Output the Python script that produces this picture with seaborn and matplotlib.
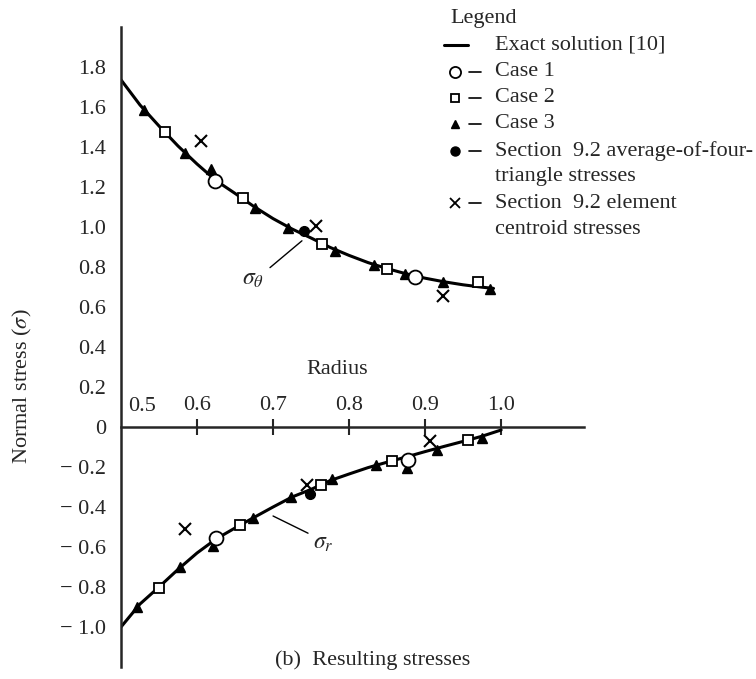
import matplotlib

matplotlib.use("Agg")
import matplotlib.pyplot as plt
from matplotlib.lines import Line2D
import seaborn as sns
import pandas as pd

# Curvas de la solucion exacta
r_curva = [0.50, 0.525, 0.55, 0.575, 0.60, 0.625, 0.65, 0.675, 0.70, 0.725, 0.75,
           0.775, 0.80, 0.825, 0.85, 0.875, 0.90, 0.925, 0.95, 0.975, 0.99]
sigma_theta = [1.736, 1.61, 1.505, 1.405, 1.315, 1.232, 1.168, 1.102, 1.042, 0.99, 0.945,
               0.898, 0.858, 0.822, 0.792, 0.766, 0.744, 0.726, 0.711, 0.699, 0.693]
r_curva_r = [0.50, 0.525, 0.55, 0.575, 0.60, 0.625, 0.65, 0.675, 0.70, 0.725, 0.75,
             0.775, 0.80, 0.825, 0.85, 0.875, 0.90, 0.925, 0.95, 0.975, 1.0]
sigma_r = [-1.0, -0.885, -0.80, -0.712, -0.63, -0.56, -0.505, -0.452, -0.40, -0.35, -0.312,
           -0.268, -0.235, -0.203, -0.176, -0.15, -0.123, -0.097, -0.072, -0.046, -0.015]

# Casos numericos
caso1_r = [0.624, 0.887, 0.625, 0.878]
caso1_s = [1.23, 0.749, -0.557, -0.164]
caso2_r = [0.558, 0.660, 0.764, 0.850, 0.969, 0.550, 0.657, 0.763, 0.856, 0.956]
caso2_s = [1.476, 1.147, 0.915, 0.790, 0.723, -0.804, -0.492, -0.288, -0.172, -0.067]
caso3_r = [0.530, 0.584, 0.618, 0.676, 0.720, 0.781, 0.833, 0.874, 0.923, 0.985,
           0.521, 0.578, 0.621, 0.674, 0.723, 0.777, 0.836, 0.876, 0.916, 0.975]
caso3_s = [1.587, 1.371, 1.288, 1.097, 0.993, 0.882, 0.810, 0.766, 0.727, 0.688,
           -0.898, -0.701, -0.596, -0.454, -0.352, -0.261, -0.190, -0.207, -0.113, -0.053]
promedio_r = [0.741, 0.749]
promedio_s = [0.981, -0.334]
centroide_r = [0.605, 0.757, 0.923, 0.584, 0.745, 0.907]
centroide_s = [1.429, 1.006, 0.655, -0.510, -0.292, -0.070]

x_ticks = [0.6, 0.7, 0.8, 0.9, 1.0]
y_ticks = [-1.0, -0.8, -0.6, -0.4, -0.2, 0.0, 0.2, 0.4, 0.6, 0.8, 1.0, 1.2, 1.4, 1.6, 1.8]

sns.set_style("white")
plt.rcParams["font.family"] = ["Liberation Serif", "DejaVu Serif"]
plt.rcParams["mathtext.fontset"] = "stix"
FS = 16

W, H = 756, 679
fig = plt.figure(figsize=(W / 100, H / 100), dpi=100)
ax = fig.add_axes([121 / W, 12 / H, 463 / W, 640 / H])

# Solucion exacta
df_t = pd.DataFrame({"r": r_curva, "s": sigma_theta})
df_r = pd.DataFrame({"r": r_curva_r, "s": sigma_r})
for df in (df_t, df_r):
    sns.lineplot(data=df, x="r", y="s", color="black", lw=2.2, ax=ax,
                 estimator=None, sort=False, zorder=2)

# Marcadores
ax.plot(caso3_r, caso3_s, ls="none", marker="^", ms=6.5, color="black", zorder=3, clip_on=False)
ax.plot(caso2_r, caso2_s, ls="none", marker="s", ms=7.5, mfc="white", mec="black", mew=1.3, zorder=4)
ax.plot(caso1_r, caso1_s, ls="none", marker="o", ms=10, mfc="white", mec="black", mew=1.3, zorder=4)
ax.plot(promedio_r, promedio_s, ls="none", marker="o", ms=7, color="black", zorder=5)
ax.plot(centroide_r, centroide_s, ls="none", marker="x", ms=8, mew=1.5, color="black", zorder=5)

# Etiquetas de curvas
ax.plot([0.696, 0.738], [0.797, 0.931], color="black", lw=1.0)
ax.text(0.674, 0.735, r"$\sigma_\theta$", fontsize=FS + 1, ha="center", va="center")
ax.plot([0.746, 0.700], [-0.531, -0.445], color="black", lw=1.0)
ax.text(0.766, -0.58, r"$\sigma_r$", fontsize=FS + 1, ha="center", va="center")

# Ejes
ax.set_xlim(0.5, 1.109)
ax.set_ylim(-1.2, 2.0)
ax.spines["top"].set_position(("data", 0))
ax.spines["bottom"].set_visible(False)
ax.spines["right"].set_visible(False)
for s in ("top", "left"):
    ax.spines[s].set_linewidth(1.8)
ax.xaxis.set_ticks_position("top")
ax.set_xticks(x_ticks)
ax.set_xticklabels([f"{v:.1f}" for v in x_ticks])
ax.set_yticks(y_ticks)
ax.set_yticklabels(["0" if v == 0 else (f"{v:.1f}" if v > 0 else "\u2212 " + f"{-v:.1f}")
                    for v in y_ticks])
ax.tick_params(axis="x", direction="inout", length=11.5, width=1.5, pad=3, labelsize=FS)
ax.tick_params(axis="y", direction="inout", length=13, width=1.5, pad=4, labelsize=FS)
ax.text(0.528, 0.055, "0.5", fontsize=FS, ha="center", va="bottom", clip_on=False)
ax.text(0.784, 0.285, "Radius", fontsize=FS, ha="center", va="center")
ax.set_xlabel("")
ax.set_ylabel("")

fig.text(22 / W, 1 - 386 / H, r"Normal stress ($\sigma$)", rotation=90,
         fontsize=FS, ha="center", va="center")
fig.text(373 / W, 1 - 660 / H, "(b)  Resulting stresses", fontsize=FS,
         ha="center", va="center")

# Leyenda manual
def fx(px):
    return px / W


def fy(py):
    return 1 - py / H


fig.text(fx(450), fy(18), "Legend", fontsize=FS, va="center")
filas = [
    (45, "line", "Exact solution [10]"),
    (72, "o", "Case 1"),
    (98, "s", "Case 2"),
    (124, "^", "Case 3"),
    (151, "fo", "Section  9.2 average-of-four-"),
    (177, None, "triangle stresses"),
    (203, "x", "Section  9.2 element"),
    (229, None, "centroid stresses"),
]
for py, simb, texto in filas:
    fig.text(fx(495), fy(py), texto, fontsize=FS, va="center")
    if simb is None:
        continue
    if simb == "line":
        fig.add_artist(Line2D([fx(444), fx(468)], [fy(py), fy(py)], color="black", lw=2.2))
        continue
    estilo = dict(ls="none", color="black")
    if simb == "o":
        estilo.update(marker="o", ms=8, mfc="white", mew=1.3)
    elif simb == "s":
        estilo.update(marker="s", ms=6, mfc="white", mew=1.3)
    elif simb == "^":
        estilo.update(marker="^", ms=6)
    elif simb == "fo":
        estilo.update(marker="o", ms=6.5)
    else:
        estilo.update(marker="x", ms=7, mew=1.3)
    fig.add_artist(Line2D([fx(455)], [fy(py)], **estilo))
    fig.add_artist(Line2D([fx(469), fx(481)], [fy(py), fy(py)], color="black", lw=1.2))

plt.savefig("out.png", dpi=100)
plt.close()
